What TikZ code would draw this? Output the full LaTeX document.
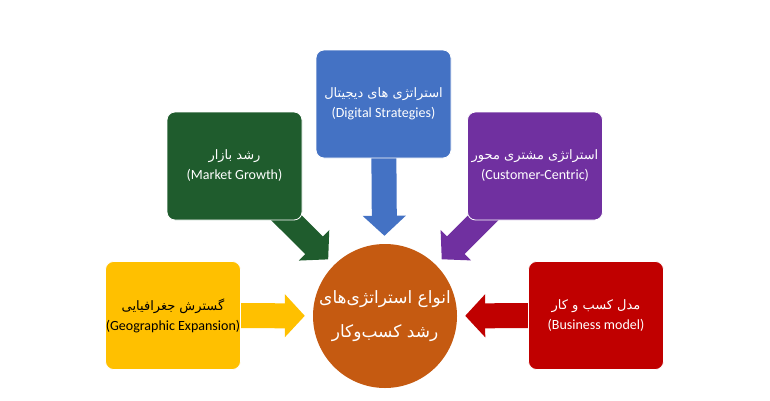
\documentclass[tikz,border=0pt]{standalone}
\usepackage{fontspec}
\setmainfont{Carlito}
\newfontfamily\farsifont[Script=Arabic]{DejaVu Sans}
\TeXXeTstate=1
\usetikzlibrary{arrows.meta,backgrounds}
\definecolor{cblue}{HTML}{4472C4}
\definecolor{cgreen}{HTML}{1F5C2D}
\definecolor{cpurple}{HTML}{7030A0}
\definecolor{cyellow}{HTML}{FFC000}
\definecolor{cred}{HTML}{C00000}
\definecolor{corange}{HTML}{C55A11}
\newcommand{\fa}[1]{{\farsifont\beginR #1\endR}}

\begin{document}
\begin{tikzpicture}[x=1pt,y=-1pt, font=\fontsize{14}{17}\selectfont, line join=round]
	\tikzset{box/.style={draw=white, line width=0.8pt, rounded corners=8pt, minimum width=135pt, minimum height=108pt, align=center, text=white, inner sep=0pt},
		flow/.style={line width=25pt, -{Triangle[width=42pt,length=20pt]}, shorten >=8pt}}
	\useasboundingbox (0,0) rectangle (770,400);
	\node[circle, fill=corange, minimum size=144pt, inner sep=0pt, text=white, align=center, font=\fontsize{17}{34}\selectfont] (hub) at (385,316) {\fa{انواع استراتژی‌های}\\\fa{رشد کسب‌وکار}};
	\node[box, fill=cblue] (digital) at (383.5,104) {\fa{\fontsize{13}{16}\selectfont استراتژی های دیجیتال}\\[3pt](Digital Strategies)};
	\node[box, fill=cgreen] (market) at (234.5,166) {\fa{\fontsize{13}{16}\selectfont رشد بازار}\\[3pt](Market Growth)};
	\node[box, fill=cpurple] (customer) at (535,166) {\fa{\fontsize{13}{16}\selectfont استراتژی مشتری محور}\\[3pt](Customer-Centric)};
	\node[box, fill=cyellow, text=black] (geo) at (173,315.5) {\fa{\fontsize{13}{16}\selectfont گسترش جغرافیایی}\\[3pt](Geographic Expansion)};
	\node[box, fill=cred] (business) at (596,315.5) {\fa{\fontsize{13}{16}\selectfont مدل کسب و کار}\\[3pt](Business model)};
	\begin{scope}[on background layer]
		\draw[flow, cblue] (digital.center) -- (hub);
		\draw[flow, cgreen] (market.center) -- (hub);
		\draw[flow, cpurple] (customer.center) -- (hub);
		\draw[flow, cyellow] (geo.center) -- (hub);
		\draw[flow, cred] (business.center) -- (hub);
	\end{scope}
\end{tikzpicture}
\end{document}
